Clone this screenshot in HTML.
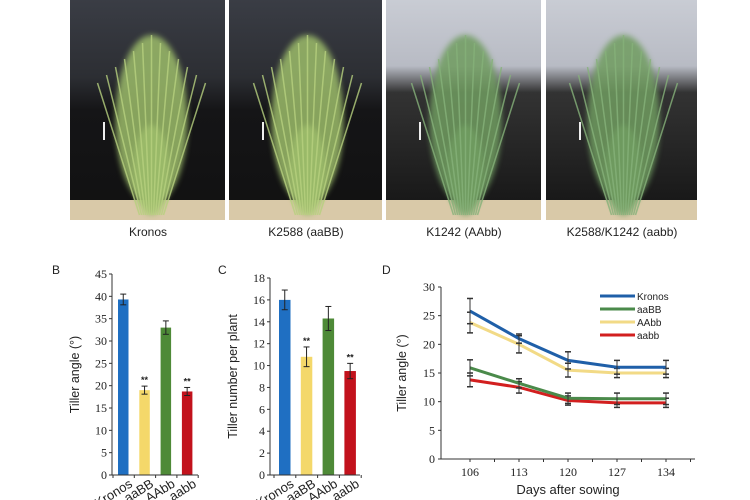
<!DOCTYPE html>
<html><head><meta charset="utf-8">
<style>
body{margin:0;width:750px;height:500px;background:#fff;overflow:hidden;font-family:"Liberation Sans",sans-serif}
svg{position:absolute;left:0;top:0}
</style></head>
<body>
<svg id="svg" width="750" height="500" viewBox="0 0 750 500">
<defs>
<linearGradient id="bgDark" x1="0" y1="0" x2="0" y2="1"><stop offset="0" stop-color="#3a3d45"/><stop offset="0.35" stop-color="#2c2e33"/><stop offset="0.5" stop-color="#151517"/><stop offset="1" stop-color="#111"/></linearGradient>
<linearGradient id="bgLight" x1="0" y1="0" x2="0" y2="1"><stop offset="0" stop-color="#c9ccd4"/><stop offset="0.3" stop-color="#b8bbc4"/><stop offset="0.42" stop-color="#333"/><stop offset="1" stop-color="#141414"/></linearGradient>
<filter id="blur"><feGaussianBlur stdDeviation="3"/></filter>
</defs>
<text x="74" y="10" font-size="11" fill="#333">A</text>
<g id="photos"></g>
<text x="148" y="236" font-size="12" text-anchor="middle" fill="#222">Kronos</text>
<text x="306" y="236" font-size="12" text-anchor="middle" fill="#222">K2588 (aaBB)</text>
<text x="464" y="236" font-size="12" text-anchor="middle" fill="#222">K1242 (AAbb)</text>
<text x="622" y="236" font-size="12" text-anchor="middle" fill="#222">K2588/K1242 (aabb)</text>
<text x="52" y="274" font-size="12" fill="#222">B</text>
<text x="218" y="274" font-size="12" fill="#222">C</text>
<text x="382" y="274" font-size="12" fill="#222">D</text>
<g id="chartB"></g><g id="chartC"></g><g id="chartD"></g>
</svg>
<script>
const NS="http://www.w3.org/2000/svg";
function mk(parent,tag,attrs,text){const e=document.createElementNS(NS,tag);for(const k in attrs)e.setAttribute(k,attrs[k]);if(text!==undefined)e.textContent=text;parent.appendChild(e);return e;}

// photos
const photoX=[70,229,386,546], photoW=[155,153,155,151], photoLight=[false,false,true,true];
const ph=document.getElementById('photos');
photoX.forEach((x,i)=>{
  const g=mk(ph,'g',{});
  
  
  mk(g,'rect',{x:x,y:0,width:photoW[i],height:220,fill:photoLight[i]?'url(#bgLight)':'url(#bgDark)'});
  mk(g,'rect',{x:x,y:200,width:photoW[i],height:20,fill:'#d9c9a8'});
  const cx=x+photoW[i]/2+(i==0?4:2);
  const col=i>=2?'#6f9c60':'#9cbc6a';
  mk(g,'ellipse',{cx:cx,cy:120,rx:36,ry:85,fill:col,opacity:0.85,filter:'url(#blur)'});
  mk(g,'ellipse',{cx:cx,cy:170,rx:18,ry:45,fill:col,opacity:0.9,filter:'url(#blur)'});
  for(let k=-6;k<=6;k++){mk(g,'line',{x1:cx+k*2,y1:215,x2:cx+k*9,y2:35+Math.abs(k)*8,stroke:i>=2?'#86b27a':'#b7d17f','stroke-width':1.5,opacity:0.8});}
  mk(g,'rect',{x:x+33,y:122,width:2,height:18,fill:'#eee'});
});

// chart B data
const catsB=['Kronos','aaBB','AAbb','aabb'];
const valsB=[39.3,19.0,33.0,18.7];
const errB=[1.2,0.9,1.5,0.9];
const ticksB=[0,5,10,15,20,25,30,35,40,45];
// chart C data
const valsC=[16.0,10.8,14.3,9.5];
const errC=[0.9,0.9,1.1,0.7];
const ticksC=[0,2,4,6,8,10,12,14,16,18];
const sigB=[false,true,false,true];
const barColors=['#1f6fc2','#f4d86a','#4e8a37','#c2121c'];

function barChart(id,vals,errs,ticks,ymax,ax,yTop,yBot,x0,x1,bar0,step,bw,title){
  const g=document.getElementById(id);
  
  
  const y=v=>yBot-(v/ymax)*(yBot-yTop);
  vals.forEach((v,i)=>{
    const bx=bar0+i*step;
    const r=mk(g,'rect',{x:bx,y:y(v),width:bw,height:yBot-y(v),fill:barColors[i]});
    
    
    const c=bx+bw/2;
    mk(g,'line',{x1:c,y1:y(v+errs[i]),x2:c,y2:y(v-errs[i]),stroke:'#222','stroke-width':1});
    mk(g,'line',{x1:c-3,y1:y(v+errs[i]),x2:c+3,y2:y(v+errs[i]),stroke:'#222','stroke-width':1});
    mk(g,'line',{x1:c-3,y1:y(v-errs[i]),x2:c+3,y2:y(v-errs[i]),stroke:'#222','stroke-width':1});
    if(sigB[i]){const s=mk(g,'text',{x:c,y:y(v+errs[i])-3,'font-size':9,'text-anchor':'middle','font-weight':'bold',fill:'#222'},'**');
      }
    const t=mk(g,'text',{x:c+10,y:yBot+11,'font-size':13,'text-anchor':'end',fill:'#222',transform:`rotate(-32 ${c+10} ${yBot+11})`},catsB[i]);
    
  });
  mk(g,'line',{x1:ax,y1:yTop,x2:ax,y2:yBot,stroke:'#333','stroke-width':1});
  mk(g,'line',{x1:ax,y1:yBot,x2:x1,y2:yBot,stroke:'#333','stroke-width':1});
  ticks.forEach(t=>{
    mk(g,'line',{x1:ax-3,y1:y(t),x2:ax,y2:y(t),stroke:'#333'});
    const tl=mk(g,'text',{x:ax-5,y:y(t)+4,'font-size':12,'text-anchor':'end','font-family':'Liberation Serif',fill:'#222'},t);
    
  });
  for(let i=0;i<=4;i++){mk(g,'line',{x1:bar0-5+i*step,y1:yBot,x2:bar0-5+i*step,y2:yBot+3,stroke:'#333'});}
  const tx=ax-33,ty=(yTop+yBot)/2;
  const tt=mk(g,'text',{x:tx,y:ty,'font-size':12.5,'text-anchor':'middle',fill:'#222',transform:`rotate(-90 ${tx} ${ty})`},title);
  
}
barChart('chartB',valsB,errB,ticksB,45,112,274,475,112,198,118,21.3,10.5,'Tiller angle (°)');
barChart('chartC',valsC,errC,ticksC,18,270,278,475,270,360,279,21.8,11.5,'Tiller number per plant');

// chart D data
const days=['106','113','120','127','134'];
const seriesNames=['Kronos','aaBB','AAbb','aabb'];
const kronos=[25.8,21.0,17.2,16.0,16.0];
const aaBB=[15.9,13.2,10.6,10.5,10.5];
const AAbb=[23.8,20.0,15.5,15.0,15.0];
const aabb=[13.8,12.5,10.2,9.8,9.8];
const errK=[2.2,0.8,1.5,1.2,1.2];
const errAB=[1.4,0.8,0.9,1.0,1.0];
const errAb=[1.8,1.5,1.2,0.8,0.8];
const errab=[1.2,1.0,0.8,0.8,0.8];
const ticksD=[0,5,10,15,20,25,30];
(function(){
  const g=document.getElementById('chartD');
  
  
  const ax=441,yTop=287,yBot=459,xr=695;
  const y=v=>yBot-v/30*(yBot-yTop);
  const x=i=>470+i*49;
  mk(g,'line',{x1:ax,y1:yTop,x2:ax,y2:yBot,stroke:'#333'});
  mk(g,'line',{x1:ax,y1:yBot,x2:xr,y2:yBot,stroke:'#333'});
  ticksD.forEach(t=>{mk(g,'line',{x1:ax-3,y1:y(t),x2:ax,y2:y(t),stroke:'#333'});
    const tl=mk(g,'text',{x:ax-6,y:y(t)+4,'font-size':12,'text-anchor':'end','font-family':'Liberation Serif',fill:'#222'},t);
    });
  days.forEach((d,i)=>{mk(g,'line',{x1:x(i),y1:yBot,x2:x(i),y2:yBot+3,stroke:'#333'});
    mk(g,'line',{x1:x(i)+24.5,y1:yBot,x2:x(i)+24.5,y2:yBot+3,stroke:'#333'});
    const tl=mk(g,'text',{x:x(i),y:yBot+17,'font-size':12,'text-anchor':'middle','font-family':'Liberation Serif',fill:'#222'},d);
    });
  const xt=mk(g,'text',{x:568,y:494,'font-size':13,'text-anchor':'middle',fill:'#222'},'Days after sowing');
  
  const yt=mk(g,'text',{x:406,y:373,'font-size':12.5,'text-anchor':'middle',fill:'#222',transform:'rotate(-90 406 373)'},'Tiller angle (°)');
  
  const all=[[aabb,errab,'#d21f1f'],[aaBB,errAB,'#4a8a4a'],[AAbb,errAb,'#f2da86'],[kronos,errK,'#1f5fa8']];
  const nm=['aabb','aaBB','AAbb','Kronos'];
  all.forEach(([vals,errs,col],si)=>{
    const pl=mk(g,'polyline',{points:vals.map((v,i)=>x(i)+','+y(v)).join(' '),fill:'none',stroke:col,'stroke-width':3});
    
    vals.forEach((v,i)=>{const a=y(v+errs[i]),b=y(v-errs[i]);
      mk(g,'line',{x1:x(i),y1:a,x2:x(i),y2:b,stroke:'#333'});
      mk(g,'line',{x1:x(i)-3,y1:a,x2:x(i)+3,y2:a,stroke:'#333','stroke-width':1.5});
      mk(g,'line',{x1:x(i)-3,y1:b,x2:x(i)+3,y2:b,stroke:'#333','stroke-width':1.5});});
  });
  const leg=[['Kronos','#1f5fa8'],['aaBB','#4a8a4a'],['AAbb','#f2da86'],['aabb','#d21f1f']];
  leg.forEach(([n,c],i)=>{const ly=296+i*13;
    const lg=mk(g,'g',{});
    
    mk(lg,'line',{x1:600,y1:ly,x2:635,y2:ly,stroke:c,'stroke-width':3});
    mk(lg,'text',{x:637,y:ly+4,'font-size':10,fill:'#222'},n);});
})();
</script>
</body></html>
